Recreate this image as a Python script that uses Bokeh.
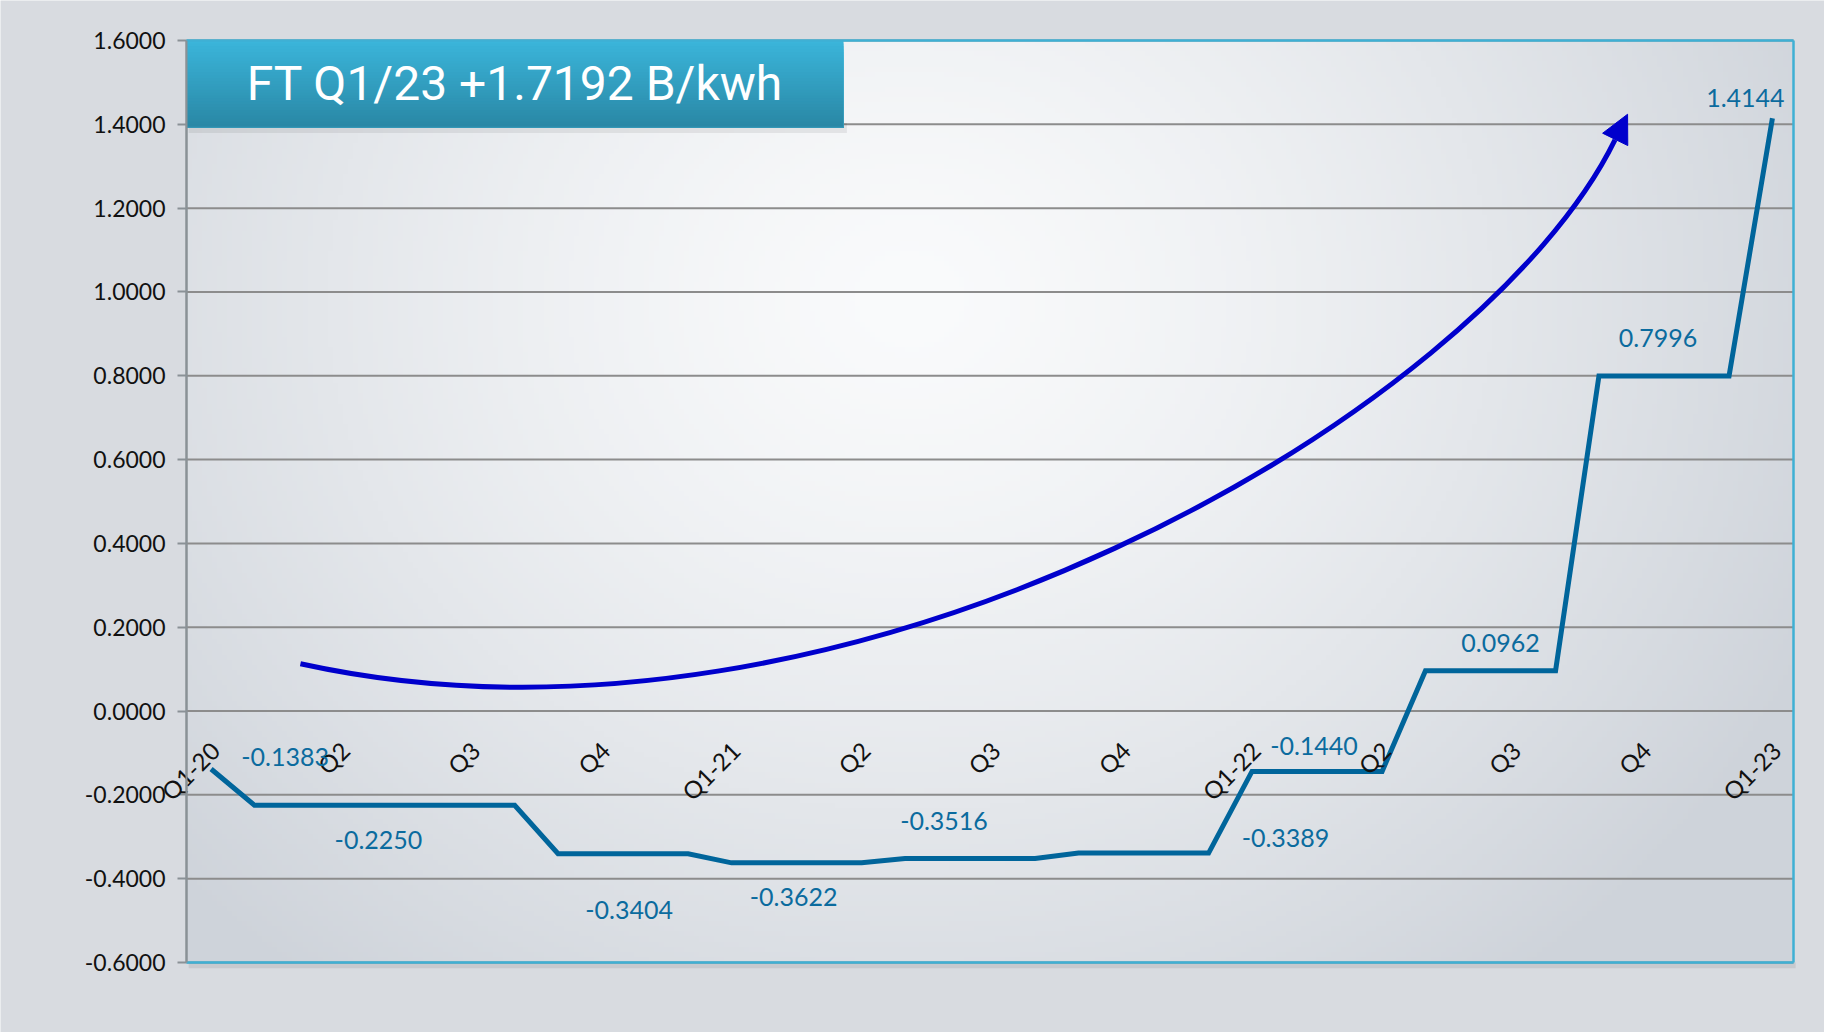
import math
import numpy as np
from bokeh.plotting import figure
from bokeh.models import (ColumnDataSource, FixedTicker, NumeralTickFormatter, Range1d,
                          LabelSet, Label, BoxAnnotation, Arrow, NormalHead)
from bokeh.embed import file_html
from bokeh.resources import INLINE
from bokeh.core.properties import value

# ---------------- data ----------------
quarters = ["Q1-20", "Q2", "Q3", "Q4", "Q1-21", "Q2", "Q3", "Q4",
            "Q1-22", "Q2", "Q3", "Q4", "Q1-23"]
quarter_month = [0, 3, 6, 9, 12, 15, 18, 21, 24, 27, 30, 33, 36]

# Ft level held over each period (month index from Jan-2020)
period_start = [0, 1, 8, 12, 16, 20, 24, 28, 32, 36]
period_end = [0, 7, 11, 15, 19, 23, 27, 31, 35, 36]
ft_values = [-0.1383, -0.2250, -0.3404, -0.3622, -0.3516, -0.3389,
             -0.1440, 0.0962, 0.7996, 1.4144]

y_ticks = [-0.6, -0.4, -0.2, 0.0, 0.2, 0.4, 0.6, 0.8, 1.0, 1.2, 1.4, 1.6]
headline = "FT Q1/23 +1.7192 B/kwh"

# trend arrow (decoration): cubic bezier control points (month, value)
trend_x = [2.06, 14.74, 29.33, 32.37]
trend_y = [0.113, -0.176, 0.719, 1.363]
trend_tip = (32.66, 1.424)

# ---------------- style ----------------
LINE_COLOR = "#00659b"
LABEL_COLOR = "#0b6b9e"
ARROW_COLOR = "#0000cc"
GRID_COLOR = "#8c8c8c"
AXIS_COLOR = "#8a9196"
FRAME_COLOR = "#3fb0d4"
OUTER_BG = "#d8dbe0"
FONT = "Lato"

# label offsets in screen px (right, up) relative to period start point
label_dx = [74, 124, 71, 62, 39, 207, 62, 75, 59, -27]
label_dy = [12, -35, -56, -34, 37, 15, 25, 28, 38, 20]

# ---------------- build line ----------------
line_x, line_y = [], []
for s, e, v in zip(period_start, period_end, ft_values):
    line_x.append(s)
    line_y.append(v)
    if e != s:
        line_x.append(e)
        line_y.append(v)

# ---------------- layout ----------------
W, H = 1824, 1032
area_l, area_r, area_t, area_b = 186, 1793, 40, 962   # plot-area box in px
x_lo, x_hi = quarter_month[0] - 0.567, quarter_month[-1] + 0.486
y_lo, y_hi = y_ticks[0], y_ticks[-1]
sx = (area_r - area_l) / (x_hi - x_lo)
sy = (area_b - area_t) / (y_hi - y_lo)
xr = Range1d(x_lo - area_l / sx, x_hi + (W - area_r) / sx)
yr = Range1d(y_lo - (H - area_b) / sy, y_hi + area_t / sy)

p = figure(width=W, height=H, output_backend="svg", toolbar_location=None,
           x_range=xr, y_range=yr,
           min_border_left=0, min_border_right=0, min_border_top=0, min_border_bottom=0)

p.background_fill_color = OUTER_BG
p.border_fill_color = OUTER_BG
p.outline_line_color = None
p.xgrid.visible = False
p.ygrid.visible = False
p.xaxis.visible = False

# soft radial background shading of the plot area (decoration)
gh, gw = 180, 320
yy, xx = np.mgrid[0:gh, 0:gw]
u = (xx / (gw - 1) - 0.45) / 0.62
v = (yy / (gh - 1) - 0.72) / 0.95
r = np.clip(np.sqrt(u * u + v * v), 0, 1) ** 1.3
c0 = np.array([250, 251, 252], dtype=float)
c1 = np.array([206, 211, 218], dtype=float)
rgb = c0[None, None, :] + (c1 - c0)[None, None, :] * r[:, :, None]
img = np.empty((gh, gw), dtype=np.uint32)
view = img.view(dtype=np.uint8).reshape((gh, gw, 4))
view[:, :, 0:3] = rgb.astype(np.uint8)
view[:, :, 3] = 255
p.image_rgba(image=[img], x=x_lo, y=y_lo, dw=x_hi - x_lo, dh=y_hi - y_lo, level="image")

# horizontal grid lines across the plot area
p.segment(x0=[x_lo] * len(y_ticks), x1=[x_hi] * len(y_ticks), y0=y_ticks, y1=y_ticks,
          line_color=GRID_COLOR, line_width=2)

# y axis pinned to the left edge of the plot area
p.yaxis.fixed_location = x_lo
p.yaxis.bounds = (y_lo, y_hi)
p.yaxis.ticker = FixedTicker(ticks=y_ticks)
p.yaxis.formatter = NumeralTickFormatter(format="0.0000")
p.yaxis.axis_line_color = AXIS_COLOR
p.yaxis.axis_line_width = 2
p.yaxis.major_tick_line_color = AXIS_COLOR
p.yaxis.major_tick_line_width = 2
p.yaxis.major_tick_out = 9
p.yaxis.major_tick_in = 0
p.yaxis.minor_tick_line_color = None
p.yaxis.major_label_standoff = 12
p.yaxis.major_label_text_font = FONT
p.yaxis.major_label_text_font_size = "23px"
p.yaxis.major_label_text_color = "#111111"

# category labels at the zero line
q_src = ColumnDataSource(dict(x=quarter_month, y=[0] * len(quarter_month), text=quarters))
p.add_layout(LabelSet(x="x", y="y", text="text", source=q_src,
                      x_offset=4, y_offset=-35, angle=math.pi / 4,
                      text_align="right", text_baseline="middle",
                      text_color="#111111", text_font=value(FONT),
                      text_font_size="24px"))

# main line
p.line(line_x, line_y, line_color=LINE_COLOR, line_width=5, line_join="miter")

# data labels
lab_src = ColumnDataSource(dict(
    x=period_start, y=ft_values,
    text=[f"{v:.4f}" for v in ft_values],
    dx=label_dx, dy=label_dy))
p.add_layout(LabelSet(x="x", y="y", text="text", source=lab_src,
                      x_offset="dx", y_offset="dy",
                      text_align="center", text_baseline="middle",
                      text_color=LABEL_COLOR, text_font=value(FONT),
                      text_font_size="25px"))

# trend arrow
p.bezier(x0=[trend_x[0]], y0=[trend_y[0]], cx0=[trend_x[1]], cy0=[trend_y[1]],
         cx1=[trend_x[2]], cy1=[trend_y[2]], x1=[trend_x[3]], y1=[trend_y[3]],
         line_color=ARROW_COLOR, line_width=5)
p.add_layout(Arrow(end=NormalHead(size=28, fill_color=ARROW_COLOR, line_color=ARROW_COLOR),
                   x_start=trend_x[3], y_start=trend_y[3],
                   x_end=trend_tip[0], y_end=trend_tip[1],
                   line_color=ARROW_COLOR, line_width=5))

# plot-area border: soft shadow, teal top/right/bottom edges, gray left axis line
p.add_layout(BoxAnnotation(left=x_lo + 0.05, right=x_hi + 0.05, top=y_lo, bottom=y_lo - 0.014,
                           fill_color="#000000", fill_alpha=0.08, line_color=None))
p.segment(x0=[x_lo, x_hi, x_lo], x1=[x_hi, x_hi, x_hi],
          y0=[y_hi, y_hi, y_lo], y1=[y_hi, y_lo, y_lo],
          line_color=FRAME_COLOR, line_width=2.5, level="overlay")
p.segment(x0=[x_lo], x1=[x_lo], y0=[y_lo], y1=[y_hi], line_color=AXIS_COLOR, line_width=2,
          level="overlay")

# headline box with vertical gradient
box_left, box_right = x_lo, 14.58
box_top, box_bottom = y_hi, 1.393
c_top = (0x3b, 0xb5, 0xda)
c_bot = (0x2a, 0x88, 0xa6)
n = 30
p.add_layout(BoxAnnotation(left=box_left + 0.05, right=box_right + 0.08,
                           top=box_bottom + 0.01, bottom=box_bottom - 0.014,
                           fill_color="#000000", fill_alpha=0.07, line_color=None))
for i in range(n):
    t = i / (n - 1)
    col = "#%02x%02x%02x" % tuple(int(a + (b - a) * t) for a, b in zip(c_top, c_bot))
    top = box_top - (box_top - box_bottom) * i / n
    p.add_layout(BoxAnnotation(left=box_left, right=box_right, top=top, bottom=box_bottom,
                               fill_color=col, fill_alpha=1.0, line_color=None))
p.add_layout(BoxAnnotation(left=box_left, right=box_right, top=box_top, bottom=box_bottom,
                           fill_alpha=0, line_color="#5cc3e2", line_width=1))
p.add_layout(Label(x=(box_left + box_right) / 2, y=(box_top + box_bottom) / 2,
                   text=headline, text_align="center", text_baseline="middle",
                   text_color="white", text_font="Roboto", text_font_size="48px"))

open("out.html", "w").write(file_html(p, INLINE))
